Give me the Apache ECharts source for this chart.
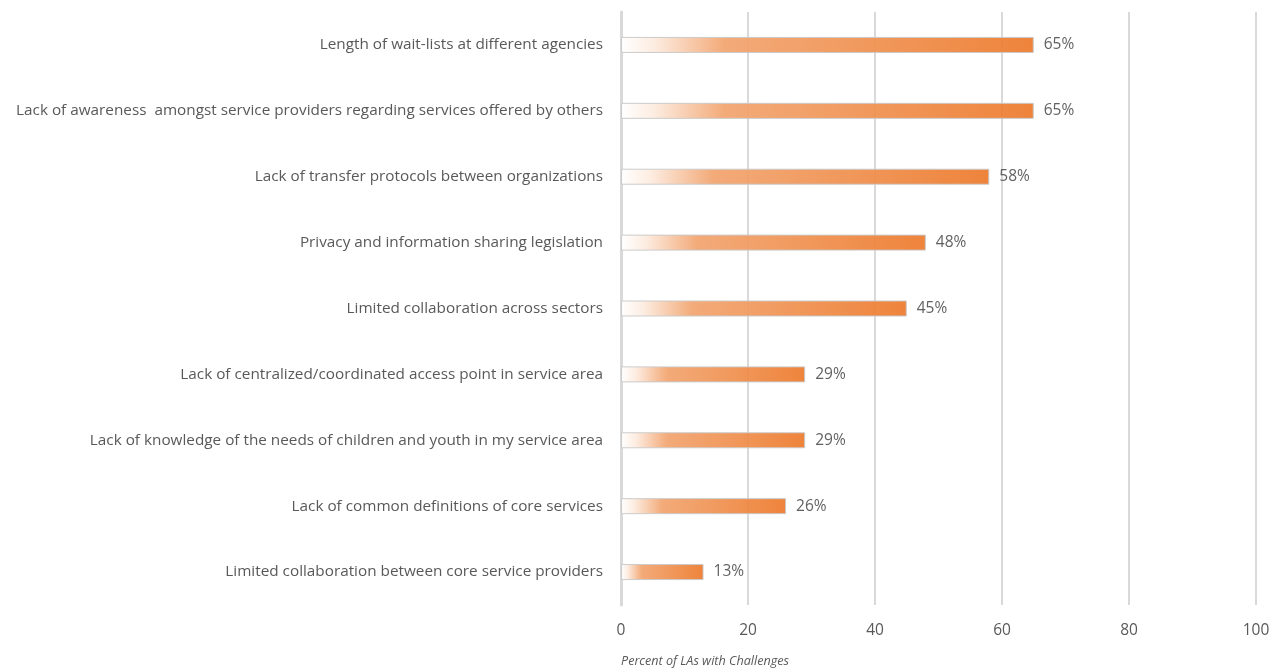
<!DOCTYPE html>
<html>
<head>
<meta charset="utf-8">
<script src="https://cdn.jsdelivr.net/npm/echarts@6/dist/echarts.min.js"></script>
<style>
  html, body { margin: 0; padding: 0; background: #ffffff; }
  #chart { width: 1280px; height: 670px; }
</style>
</head>
<body>
<div id="chart"></div>
<script>
// Challenges reported by LAs, listed top to bottom
const categories = [
  'Length of wait-lists at different agencies',
  'Lack of awareness  amongst service providers regarding services offered by others',
  'Lack of transfer protocols between organizations',
  'Privacy and information sharing legislation',
  'Limited collaboration across sectors',
  'Lack of centralized/coordinated access point in service area',
  'Lack of knowledge of the needs of children and youth in my service area',
  'Lack of common definitions of core services',
  'Limited collaboration between core service providers'
];
// Percent of LAs with each challenge
const percents = [65, 65, 58, 48, 45, 29, 29, 26, 13];
const axisTicks = [0, 20, 40, 60, 80, 100];
const axisTitle = 'Percent of LAs with Challenges';

const chart = echarts.init(document.getElementById('chart'));

// Category axis runs bottom-up, so reverse for top-down order
const yCats = categories.slice().reverse();
const yVals = percents.slice().reverse();

const barFill = new echarts.graphic.LinearGradient(0, 0, 1, 0, [
  { offset: 0, color: '#ffffff' },
  { offset: 0.08, color: '#fcebdf' },
  { offset: 0.25, color: '#f2a672' },
  { offset: 1, color: '#ed7d31' }
]);

const textFont = 'Open Sans';
const textColor = '#595959';

chart.setOption({
  animation: false,
  title: {
    text: axisTitle,
    left: 616,
    top: 650,
    textStyle: {
      fontFamily: textFont,
      fontSize: 12.6,
      fontStyle: 'italic',
      fontWeight: 'normal',
      color: textColor
    }
  },
  grid: { left: 621, right: 24, top: 12, bottom: 65, containLabel: false },
  xAxis: {
    type: 'value',
    min: axisTicks[0],
    max: axisTicks[axisTicks.length - 1],
    interval: axisTicks[1] - axisTicks[0],
    axisLine: { show: false },
    axisTick: { show: false },
    splitLine: { show: true, lineStyle: { color: '#cccccc', width: 1.5 } },
    axisLabel: {
      margin: 18,
      fontFamily: textFont,
      fontSize: 15.5,
      color: textColor
    }
  },
  yAxis: {
    type: 'category',
    data: yCats,
    axisLine: { show: true, lineStyle: { color: '#d9d9d9', width: 3 } },
    axisTick: { show: false },
    axisLabel: {
      margin: 18,
      fontFamily: textFont,
      fontSize: 15.3,
      color: textColor
    }
  },
  series: [{
    type: 'bar',
    data: yVals,
    barWidth: 16,
    itemStyle: {
      color: barFill,
      borderColor: '#c9c9c9',
      borderWidth: 1,
      opacity: 0.95
    },
    label: {
      show: true,
      position: 'right',
      distance: 10,
      formatter: p => p.value + '%',
      fontFamily: textFont,
      fontSize: 15.5,
      color: textColor
    }
  }]
});
</script>
</body>
</html>
